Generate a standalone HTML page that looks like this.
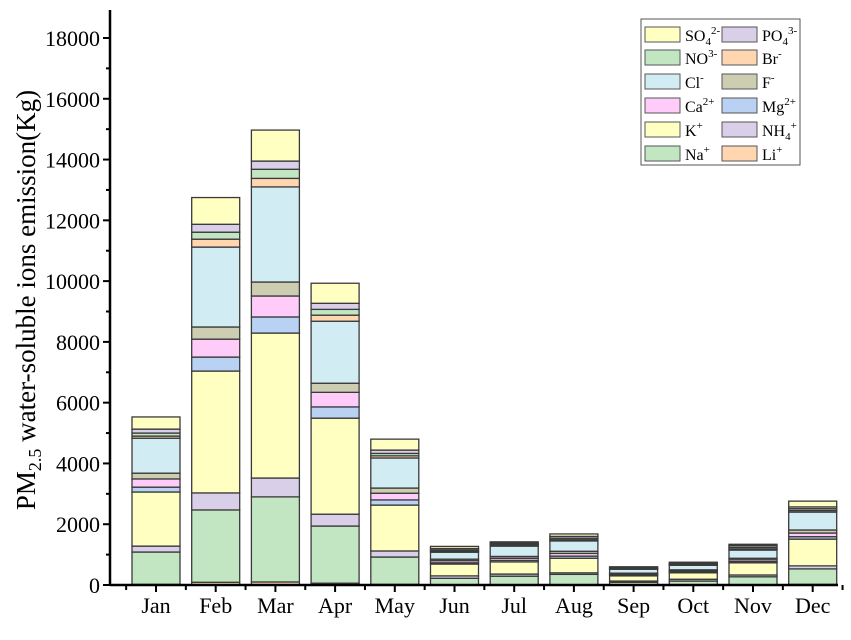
<!DOCTYPE html>
<html><head><meta charset="utf-8"><style>
body{margin:0;background:#fff;}
svg text{font-family:"Liberation Serif",serif;fill:#000;}
</style></head><body>
<svg id="chart" width="851" height="635" xmlns="http://www.w3.org/2000/svg">
<g id="bars"></g>
<g id="axes"></g>
<text transform="translate(35,300) rotate(-90)" text-anchor="middle" font-size="27">PM<tspan font-size="18" dy="6">2.5</tspan><tspan dy="-6"> water-soluble ions emission(Kg)</tspan></text>
<g id="legend"></g>
</svg>
<script>
const months=["Jan","Feb","Mar","Apr","May","Jun","Jul","Aug","Sep","Oct","Nov","Dec"];
const Li  =[20,90,100,60,20,10,10,10,5,5,10,20];
const Na  =[1065,2380,2800,1880,900,210,280,340,85,125,260,510];
const NH4 =[195,560,620,390,200,80,70,50,40,60,60,100];
const K   =[1780,4010,4770,3160,1510,390,400,480,170,210,400,880];
const Mg  =[160,460,530,370,170,40,50,70,30,30,40,80];
const Ca  =[270,590,690,480,220,70,70,90,30,40,60,120];
const F   =[190,400,460,300,170,50,60,70,30,30,50,100];
const Cl  =[1150,2630,3130,2040,990,230,340,340,130,150,270,590];
const Br  =[70,260,280,200,70,30,30,40,15,20,40,50];
const NO3 =[100,230,300,190,80,40,30,50,20,25,50,60];
const PO4 =[130,260,270,200,110,50,40,60,25,25,60,60];
const SO4 =[400,880,1020,660,360,70,40,80,20,30,40,190];
const yTicks=[0,2000,4000,6000,8000,10000,12000,14000,16000,18000];

const series=[
 {k:"li",v:Li,c:"#ffd6b0"},{k:"na",v:Na,c:"#c2e6c2"},{k:"nh4",v:NH4,c:"#d9cfe8"},
 {k:"k",v:K,c:"#ffffc2"},{k:"mg",v:Mg,c:"#b9d1f3"},{k:"ca",v:Ca,c:"#ffccfa"},
 {k:"f",v:F,c:"#cdcdb2"},{k:"cl",v:Cl,c:"#d2ecf3"},{k:"br",v:Br,c:"#ffd6b0"},
 {k:"no3",v:NO3,c:"#c2e6c2"},{k:"po4",v:PO4,c:"#d9cfe8"},{k:"so4",v:SO4,c:"#ffffc2"}];
const NS="http://www.w3.org/2000/svg";
const X0=110,X1=838,Y0=585,Ytop=38,VMAX=18000;
const step=59.7;
const y=v=>Y0-(v/VMAX)*(Y0-Ytop);
const xc=i=>156+step*i;
function mk(t,a,p){const e=document.createElementNS(NS,t);for(const k in a)e.setAttribute(k,a[k]);p.appendChild(e);return e;}
const bars=document.getElementById('bars');
months.forEach((m,i)=>{
 let acc=0;
 series.forEach(s=>{
  const v=s.v[i];
  const r=mk('rect',{x:xc(i)-24,y:y(acc+v),width:48,height:Math.max(0,y(acc)-y(acc+v)),fill:s.c,stroke:"#3a3a3a","stroke-width":1.3},bars);
  
  
  acc+=v;
 });
});
const ax=document.getElementById('axes');
let l=mk('line',{x1:X0,y1:Y0,x2:X1,y2:Y0,stroke:"#000","stroke-width":2.5},ax);

l=mk('line',{x1:X0,y1:Y0+1,x2:X0,y2:10,stroke:"#000","stroke-width":2.5},ax);

yTicks.forEach(t=>{
 mk('line',{x1:X0-7,y1:y(t),x2:X0,y2:y(t),stroke:"#000","stroke-width":2},ax);
 if(t<VMAX) mk('line',{x1:X0-4,y1:y(t+1000),x2:X0,y2:y(t+1000),stroke:"#000","stroke-width":2},ax);
 const tx=mk('text',{x:X0-10,y:y(t)+8,"text-anchor":"end","font-size":22},ax);
 tx.textContent=t;
 
});
months.forEach((m,i)=>{
 mk('line',{x1:xc(i),y1:Y0,x2:xc(i),y2:Y0+7,stroke:"#000","stroke-width":2},ax);
 mk('line',{x1:xc(i)-step/2,y1:Y0,x2:xc(i)-step/2,y2:Y0+5,stroke:"#000","stroke-width":2},ax);
 const tx=mk('text',{x:xc(i),y:Y0+28,"text-anchor":"middle","font-size":22},ax);
 tx.textContent=m;
 
});
mk('line',{x1:xc(11)+step/2,y1:Y0,x2:xc(11)+step/2,y2:Y0+5,stroke:"#000","stroke-width":2},ax);
const lg=document.getElementById('legend');
mk('rect',{x:641,y:19,width:159,height:146,fill:"#fff",stroke:"#555","stroke-width":1},lg);
const items=[["SO4","2-","#ffffc2"],["PO4","3-","#d9cfe8"],["NO","3-","#c2e6c2"],["Br","-","#ffd6b0"],
 ["Cl","-","#d2ecf3"],["F","-","#cdcdb2"],["Ca","2+","#ffccfa"],["Mg","2+","#b9d1f3"],
 ["K","+","#ffffc2"],["NH4","+","#d9cfe8"],["Na","+","#c2e6c2"],["Li","+","#ffd6b0"]];
const rowsY=[27,50,74,98,122,146];
items.forEach((it,j)=>{
 const col=j%2,row=Math.floor(j/2);
 const sx=col?722:645, ty=rowsY[row];
 const g=mk('g',{},lg);
 
 
 mk('rect',{x:sx,y:ty,width:35,height:15,fill:it[2],stroke:"#555","stroke-width":1},g);
 const t=mk('text',{x:sx+40,y:ty+14,"font-size":16},g);
 let base=it[0],sub="";
 if(base==="SO4"||base==="PO4"||base==="NH4"){sub="4";base=base.slice(0,-1);}
 t.innerHTML=base+(sub?'<tspan font-size="11" dy="4">'+sub+'</tspan><tspan font-size="11" dy="-11">'+it[1]+'</tspan>':'<tspan font-size="11" dy="-7">'+it[1]+'</tspan>');
});
</script>
</body></html>
